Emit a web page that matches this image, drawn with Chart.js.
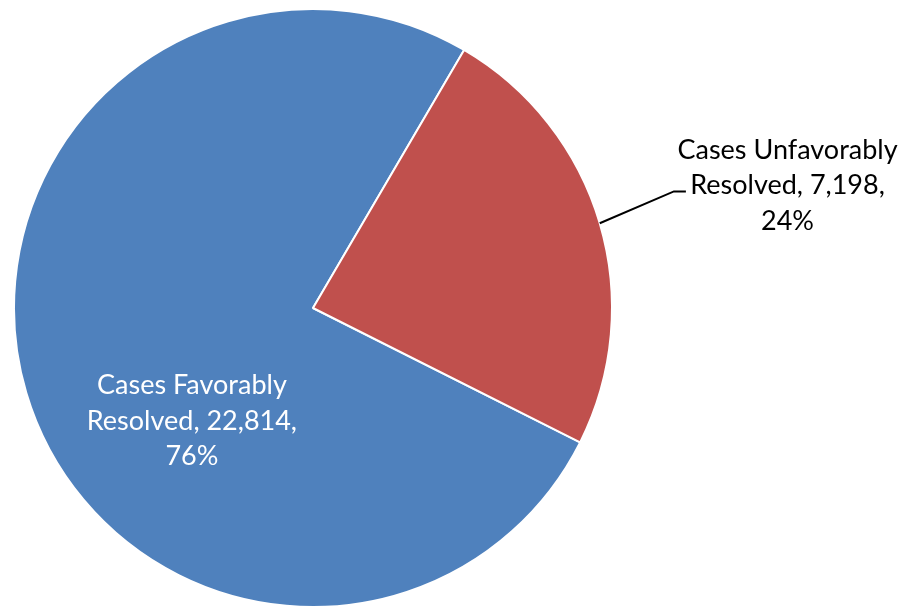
<!DOCTYPE html>
<html><head><meta charset="utf-8">
<script src="https://cdn.jsdelivr.net/npm/chart.js@4"></script>
<style>html,body{margin:0;padding:0;background:#fff;overflow:hidden}#wrap{width:908px;height:611px;position:relative}</style>
</head><body><div id="wrap"><canvas id="c"></canvas></div>
<script>
const categories = ["Cases Favorably Resolved", "Cases Unfavorably Resolved"];
const caseCounts = [22814, 7198];
const percentLabels = ["76%", "24%"];
const sliceColors = ["#4F81BD", "#C0504D"];

function labelLines(i) {
  const words = categories[i].split(" ");
  return [words.slice(0, 2).join(" "),
          words.slice(2).join(" ") + ", " + caseCounts[i].toLocaleString("en-US") + ",",
          percentLabels[i]];
}

const FONT = '27px Lato';
const LINE_H = 35.5;
const labelPlugin = {
  id: 'labels',
  afterDatasetsDraw(chart) {
    const ctx = chart.ctx;
    const arcs = chart.getDatasetMeta(0).data;
    ctx.save();
    ctx.font = FONT;
    ctx.textAlign = 'center';
    ctx.textBaseline = 'middle';
    // inside label for favorably
    {
      const a = arcs[0], r = a.outerRadius;
      const cx = a.x - 0.405 * r, cy = a.y + 0.378 * r;
      ctx.fillStyle = '#ffffff';
      labelLines(0).forEach((t, k) => ctx.fillText(t, cx, cy + (k - 1) * LINE_H));
    }
    // outside label for unfavorably with leader
    {
      const a = arcs[1], r = a.outerRadius;
      const mid = (a.startAngle + a.endAngle) / 2;
      const sx = a.x + Math.cos(mid) * r, sy = a.y + Math.sin(mid) * r;
      const ex = a.x + 1.207 * r, ey = a.y - 0.39 * r;
      ctx.strokeStyle = '#000000';
      ctx.lineWidth = 2;
      ctx.beginPath();
      ctx.moveTo(sx, sy);
      ctx.lineTo(ex, ey);
      ctx.lineTo(ex + 12, ey);
      ctx.stroke();
      const cx = a.x + 1.587 * r, cy = a.y - 0.41 * r;
      ctx.fillStyle = '#000000';
      labelLines(1).forEach((t, k) => ctx.fillText(t, cx, cy + (k - 1) * LINE_H));
    }
    ctx.restore();
  }
};

new Chart(document.getElementById('c'), {
  type: 'pie',
  data: {
    labels: categories,
    datasets: [{
      data: caseCounts,
      backgroundColor: sliceColors,
      borderColor: '#ffffff',
      borderWidth: 2,
      hoverOffset: 0,
      offset: 0
    }]
  },
  options: {
    responsive: true,
    maintainAspectRatio: false,
    animation: false,
    rotation: 116.7,
    layout: { padding: { left: 13, top: 8, right: 295, bottom: 3 } },
    plugins: { legend: { display: false }, tooltip: { enabled: false } },
    events: []
  },
  plugins: [labelPlugin]
});
</script>
</body></html>
